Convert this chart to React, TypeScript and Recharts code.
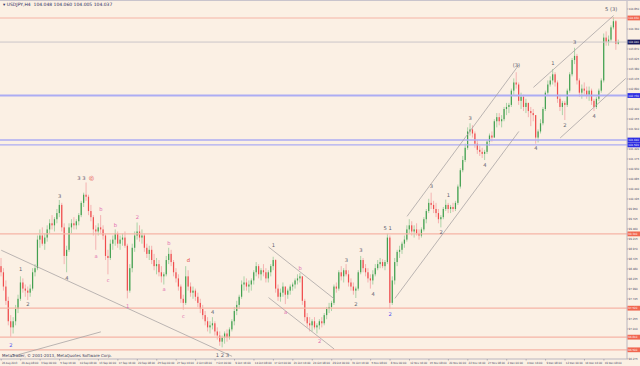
import React from 'react';
import { ComposedChart, Bar, XAxis, YAxis, ReferenceLine, ReferenceDot } from 'recharts';

// USDJPY H4, each candle here = two H4 bars
const firstOpen = 98.55;
const closes = [
  98.40, 98.05, 97.70, 97.20, 97.05, 97.20, 97.50, 97.75, 98.15, 98.00,
  97.95, 97.90, 98.00, 98.40, 98.50, 99.20, 99.30, 99.10, 99.25, 99.45,
  99.60, 99.55, 99.70, 99.85, 100.05, 99.50, 98.80, 98.95, 99.50, 99.60,
  99.55, 99.65, 99.80, 100.10, 100.30, 100.25, 99.90, 99.75, 99.45, 99.40,
  99.50, 99.45, 99.30, 98.80, 98.75, 99.10, 99.20, 99.35, 99.10, 99.20,
  99.25, 99.05, 97.95, 98.50, 99.00, 99.30, 99.40, 99.25, 99.30, 99.00,
  98.85, 98.95, 98.70, 98.55, 98.60, 98.40, 98.30, 98.35, 98.70, 98.85,
  98.65, 98.40, 98.25, 98.05, 97.75, 97.65, 98.30, 98.05, 97.90, 97.95,
  97.80, 97.65, 97.50, 97.35, 97.20, 97.05, 97.10, 97.15, 96.95, 96.85,
  96.70, 96.80, 96.90, 96.80, 97.00, 97.20, 97.45, 97.60, 97.80, 98.10,
  98.15, 98.05, 98.10, 98.20, 98.40, 98.55, 98.35, 98.45, 98.40, 98.25,
  98.40, 98.55, 98.70, 98.00, 97.80, 97.90, 98.05, 97.85, 97.95, 98.05,
  98.10, 98.20, 98.25, 98.30, 97.70, 97.30, 97.15, 97.10, 97.20, 97.05,
  97.10, 97.20, 97.15, 97.35, 97.50, 97.55, 97.65, 98.05, 98.00, 98.40,
  98.30, 98.45, 98.35, 98.15, 98.05, 97.95, 98.00, 98.40, 98.70, 98.50,
  98.40, 98.25, 98.20, 98.35, 98.50, 98.60, 98.65, 98.55, 98.65, 99.25,
  97.65, 98.20, 98.65, 98.90, 98.95, 99.10, 99.20, 99.45, 99.55, 99.40,
  99.45, 99.35, 99.30, 99.45, 99.70, 99.90, 100.10, 100.05, 99.95, 99.85,
  99.70, 99.75, 99.95, 100.05, 99.95, 100.00, 99.95, 100.10, 100.50, 100.90,
  101.15, 101.45, 101.85, 101.90, 101.80, 101.55, 101.40, 101.35, 101.30, 101.35,
  101.60, 101.75, 101.70, 102.10, 102.20, 102.10, 102.15, 102.40, 102.45, 102.50,
  102.85, 103.05, 103.00, 102.60, 102.70, 102.45, 102.55, 102.35, 102.30, 102.25,
  101.70, 101.85, 102.05, 102.40, 102.80, 103.00, 103.10, 103.25, 103.05, 102.65,
  102.45, 102.55, 102.50, 102.85, 103.25, 103.60, 103.70, 103.10, 102.80, 102.90,
  102.85, 102.75, 102.85, 102.60, 102.45, 102.65, 102.85, 103.10, 104.15, 104.05,
  104.10, 104.40, 104.55, 104.00, 104.04,
];
const highs = [
  98.75, 98.50, 98.20, 97.80, 97.35, 97.30, 97.60, 97.85, 98.30, 98.25,
  98.10, 98.05, 98.10, 98.50, 98.60, 99.30, 99.45, 99.50, 99.35, 99.55,
  99.70, 99.80, 99.75, 99.95, 100.17, 100.10, 99.60, 99.05, 99.60, 99.70,
  99.75, 99.70, 99.85, 100.15, 100.35, 100.60, 100.30, 100.05, 99.80, 99.55,
  99.60, 99.80, 99.55, 99.35, 98.95, 99.20, 99.30, 99.45, 99.40, 99.30,
  99.35, 99.40, 99.10, 98.60, 99.10, 99.40, 99.62, 99.55, 99.45, 99.35,
  99.10, 99.05, 99.05, 98.85, 98.75, 98.70, 98.55, 98.40, 98.80, 99.00,
  98.95, 98.70, 98.50, 98.35, 98.10, 97.85, 98.55, 98.45, 98.15, 98.05,
  98.00, 97.90, 97.75, 97.60, 97.45, 97.30, 97.20, 97.30, 97.20, 97.05,
  96.95, 96.85, 96.95, 97.00, 97.05, 97.25, 97.55, 97.70, 97.85, 98.20,
  98.30, 98.25, 98.20, 98.25, 98.45, 98.65, 98.60, 98.50, 98.60, 98.50,
  98.45, 98.60, 98.78, 98.72, 98.10, 98.00, 98.15, 98.05, 98.00, 98.10,
  98.15, 98.25, 98.35, 98.38, 98.30, 97.75, 97.40, 97.30, 97.25, 97.30,
  97.15, 97.25, 97.30, 97.40, 97.55, 97.65, 97.70, 98.10, 98.15, 98.45,
  98.55, 98.50, 98.60, 98.45, 98.25, 98.15, 98.05, 98.45, 98.80, 98.75,
  98.60, 98.50, 98.35, 98.45, 98.60, 98.70, 98.75, 98.72, 98.70, 99.35,
  99.30, 98.30, 98.75, 98.95, 99.05, 99.15, 99.30, 99.55, 99.70, 99.65,
  99.55, 99.60, 99.45, 99.50, 99.75, 99.95, 100.20, 100.35, 100.15, 100.10,
  99.95, 99.80, 100.00, 100.18, 100.10, 100.05, 100.10, 100.15, 100.55, 100.95,
  101.25, 101.55, 101.95, 102.05, 102.00, 101.85, 101.65, 101.50, 101.45, 101.40,
  101.65, 101.80, 101.85, 102.15, 102.30, 102.30, 102.25, 102.45, 102.55, 102.55,
  102.90, 103.15, 103.30, 103.05, 102.80, 102.75, 102.65, 102.55, 102.45, 102.40,
  102.25, 101.90, 102.15, 102.45, 102.85, 103.10, 103.20, 103.38, 103.30, 103.10,
  102.75, 102.60, 102.60, 102.90, 103.30, 103.65, 103.90, 103.75, 103.15, 103.00,
  103.05, 102.95, 102.95, 102.90, 102.65, 102.70, 102.90, 103.15, 104.25, 104.30,
  104.20, 104.45, 104.65, 104.58, 104.10,
];
const lows = [
  98.30, 97.95, 97.60, 97.10, 96.82, 96.90, 97.10, 97.40, 97.70, 97.90,
  97.80, 97.72, 97.80, 97.95, 98.30, 98.45, 99.00, 99.05, 98.95, 99.15,
  99.35, 99.45, 99.40, 99.60, 99.75, 99.40, 98.60, 98.40, 98.90, 99.35,
  99.45, 99.45, 99.55, 99.75, 100.00, 100.15, 99.80, 99.65, 99.30, 98.95,
  99.30, 99.35, 99.20, 98.70, 98.35, 98.70, 98.95, 99.05, 99.00, 98.95,
  99.05, 99.00, 97.76, 97.90, 98.40, 98.90, 99.20, 99.15, 99.10, 98.90,
  98.75, 98.70, 98.60, 98.45, 98.35, 98.30, 98.15, 98.10, 98.30, 98.60,
  98.55, 98.30, 98.15, 97.95, 97.65, 97.48, 97.60, 97.95, 97.80, 97.75,
  97.70, 97.55, 97.40, 97.25, 97.10, 96.95, 96.90, 97.00, 96.85, 96.75,
  96.60, 96.56, 96.65, 96.70, 96.75, 96.95, 97.10, 97.35, 97.50, 97.75,
  97.95, 97.95, 97.90, 97.95, 98.10, 98.30, 98.25, 98.20, 98.30, 98.15,
  98.15, 98.30, 98.45, 97.90, 97.70, 97.68, 97.80, 97.62, 97.75, 97.85,
  97.95, 98.00, 98.10, 98.15, 97.60, 97.20, 97.05, 96.95, 96.95, 97.00,
  96.90, 97.00, 97.05, 97.10, 97.25, 97.40, 97.45, 97.60, 97.90, 97.95,
  98.20, 98.15, 98.30, 98.05, 97.95, 97.85, 97.77, 97.95, 98.35, 98.40,
  98.30, 98.15, 98.00, 98.10, 98.30, 98.45, 98.50, 98.50, 98.45, 98.60,
  97.50, 97.60, 98.10, 98.55, 98.75, 98.85, 99.00, 99.15, 99.35, 99.30,
  99.25, 99.30, 99.20, 99.25, 99.40, 99.60, 99.85, 99.95, 99.85, 99.75,
  99.60, 99.50, 99.70, 99.90, 99.85, 99.85, 99.88, 99.90, 100.05, 100.45,
  100.85, 101.10, 101.40, 101.75, 101.70, 101.45, 101.30, 101.25, 101.20, 101.15,
  101.30, 101.50, 101.60, 101.70, 101.95, 102.00, 101.95, 102.10, 102.25, 102.30,
  102.45, 102.75, 102.90, 102.50, 102.40, 102.35, 102.30, 102.20, 101.98, 102.10,
  101.55, 101.58, 101.80, 102.00, 102.35, 102.75, 102.95, 103.00, 102.95, 102.55,
  102.35, 102.25, 102.13, 102.45, 102.80, 103.20, 103.50, 103.00, 102.70, 102.65,
  102.75, 102.65, 102.60, 102.50, 102.35, 102.40, 102.60, 102.80, 103.05, 103.95,
  103.95, 104.05, 104.35, 103.85, 103.98,
];

const timeLabels = [
  '26 Aug 2013', '29 Aug 08:00', '3 Sep 00:00', '5 Sep 16:00', '10 Sep 08:00', '13 Sep 00:00',
  '17 Sep 16:00', '20 Sep 08:00', '25 Sep 00:00', '27 Sep 16:00', '2 Oct 08:00', '7 Oct 00:00',
  '9 Oct 16:00', '14 Oct 08:00', '17 Oct 00:00', '21 Oct 16:00', '24 Oct 08:00', '29 Oct 00:00',
  '31 Oct 16:00', '5 Nov 08:00', '8 Nov 00:00', '12 Nov 16:00', '15 Nov 08:00', '20 Nov 00:00',
  '22 Nov 16:00', '27 Nov 08:00', '2 Dec 00:00', '4 Dec 16:00', '9 Dec 08:00', '12 Dec 00:00',
  '16 Dec 16:00', '19 Dec 08:00',
];
const priceTicks = [
  96.275, 96.52, 96.765, 97.01, 97.255, 97.5, 97.745, 97.99, 98.235, 98.48, 98.725, 98.97,
  99.215, 99.46, 99.705, 99.95, 100.195, 100.44, 100.685, 100.93, 101.175, 101.42, 101.665,
  101.91, 102.155, 102.4, 102.645, 102.89, 103.135, 103.38, 103.625, 103.87, 104.115, 104.36,
  104.605, 104.85,
];

const redLevels = [104.63, 99.34, 97.52, 96.81, 96.5];
const blueLevels = [102.73, 101.64, 101.52];
const bidPrice = 104.04;

// [from bar, from price, to bar, to price]
const trendLines = [
  [0, 98.94, 95, 96.34],
  [4, 96.33, 41, 96.94],
  [110, 99.02, 137, 97.75],
  [110, 97.78, 137, 96.52],
  [167, 99.77, 213, 103.48],
  [162, 97.76, 213, 101.85],
  [219, 102.93, 252, 104.69],
  [230, 101.69, 257, 103.15],
];

const waveText = ['2', '1', '2', '3', '4', '3 3', 'ⓓ', 'a', 'b', 'c', 'b', '1', '2', 'a', 'b', 'c', 'd', '4', '1 2 3',
  '1', 'a', 'b', '2', '3', '2', '3', '4', '5 1', '2', '3', '2', '1', '3', '4', '(3)', '4', '1', '2', '3', '4', '5 (3)'];
const waveBar = [4, 8, 11, 24, 27, 33, 37, 39, 41, 44, 47, 52, 56, 67, 69, 75, 77, 87, 91,
  112, 117, 123, 131, 142, 146, 148, 153, 159, 160, 177, 181, 184, 193, 199, 212, 220, 227, 232, 236, 244, 251];
const wavePrice = [96.62, 98.48, 97.62, 100.27, 98.25, 100.70, 100.70, 98.80, 99.95, 98.20, 99.55, 97.58, 99.74, 97.98, 99.12, 97.33, 98.70, 97.43, 96.38,
  99.07, 97.42, 98.50, 96.72, 98.70, 97.62, 98.93, 97.86, 99.47, 97.38, 100.50, 99.38, 100.30, 102.17, 101.02, 103.48, 101.43, 103.52, 102.01, 104.03, 102.22, 104.85];
const waveTone = ['b', 'k', 'k', 'k', 'k', 'k', 'r', 'p', 'p', 'p', 'p', 'p', 'p', 'p', 'p', 'p', 'r', 'k', 'k',
  'k', 'p', 'p', 'p', 'k', 'k', 'k', 'k', 'k', 'b', 'k', 'k', 'k', 'k', 'k', 'k', 'k', 'k', 'k', 'k', 'k', 'k'];

const SLOTS = 258;
const LABEL_EVERY = 8;

const rows = Array.from({ length: SLOTS }, (_, i) => {
  if (i >= closes.length) return { i };
  const o = i === 0 ? firstOpen : closes[i - 1];
  const c = closes[i];
  return { i, o, c, h: Math.max(highs[i], o, c), l: Math.min(lows[i], o, c) };
});
const tickBars = timeLabels.map((_, k) => k * LABEL_EVERY);
const tagPrices = [...redLevels, ...blueLevels, bidPrice];
// plain scale labels that sit under a price tag are hidden, as in the terminal
const shownTicks = priceTicks.filter((t) => tagPrices.every((p) => Math.abs(p - t) > 0.09));
const toneColor: Record<string, string> = { k: '#5d5d6e', p: '#e06cae', b: '#4b4bf0', r: '#e23434' };
const FONT = 'DejaVu Sans, Arial, sans-serif';

const Candle = (props: any) => {
  const { x, y, width, height, payload } = props;
  if (!payload || payload.c == null) return null;
  const top = Math.min(y, y + height);
  const bot = Math.max(y, y + height);
  const span = payload.h - payload.l;
  const toY = (v: number) => (span > 0 ? top + ((payload.h - v) / span) * (bot - top) : top);
  const cx = x + width / 2;
  const up = payload.c >= payload.o;
  const b1 = toY(Math.max(payload.o, payload.c));
  const b2 = toY(Math.min(payload.o, payload.c));
  const bw = Math.max(width * 0.6, 1);
  return (
    <g>
      <line x1={cx} x2={cx} y1={top} y2={bot} stroke={up ? '#a3cfa0' : '#f3abab'} strokeWidth={0.9} />
      <rect x={cx - bw / 2} y={b1} width={bw} height={Math.max(b2 - b1, 0.7)} fill={up ? '#43a050' : '#f04c4c'} />
    </g>
  );
};

const TimeTick = ({ x, y, payload }: any) => {
  const label = timeLabels[Math.round(payload.value / LABEL_EVERY)] || '';
  return (
    <g>
      <line x1={x} x2={x} y1={y} y2={y + 1.5} stroke="#8d8a9a" strokeWidth={0.6} />
      <text x={x + 0.8} y={y + 5.2} fontSize={2.9} fill="#3d3d5e" fontFamily={FONT}
        textLength={label.length * 1.4} lengthAdjust="spacingAndGlyphs">{label}</text>
    </g>
  );
};

const PriceTick = ({ x, y, payload }: any) => {
  const v = payload.value;
  let bg = '';
  if (v === bidPrice) bg = '#17175c';
  else if (redLevels.includes(v)) bg = '#f1664f';
  else if (blueLevels.includes(v)) bg = '#2c2ce2';
  const text = v.toFixed(3);
  const len = text.length * 1.5;
  if (bg) {
    return (
      <g>
        <rect x={x + 0.5} y={y - 2.4} width={12.5} height={4.8} fill={bg} />
        <text x={x + 1.3} y={y + 1.1} fontSize={2.9} fill="#ffffff" fontFamily={FONT}
          textLength={len} lengthAdjust="spacingAndGlyphs">{text}</text>
      </g>
    );
  }
  return (
    <g>
      <line x1={x} x2={x + 1.2} y1={y} y2={y} stroke="#8d8a9a" strokeWidth={0.6} />
      <text x={x + 1.6} y={y + 1.1} fontSize={2.9} fill="#3d3d5e" fontFamily={FONT}
        textLength={len} lengthAdjust="spacingAndGlyphs">{text}</text>
    </g>
  );
};

export default function App() {
  return (
    <div style={{ position: 'fixed', left: 0, top: 0, width: 640, height: 366, background: '#fbf0e4', overflow: 'hidden' }}>
      <div style={{ position: 'absolute', left: 0, top: 0, width: 640, height: 1, background: '#c9c4cc' }} />
      <ComposedChart
        width={640}
        height={366}
        data={rows}
        margin={{ top: 1, right: 0, bottom: 0, left: 0 }}
        barCategoryGap={0}
        barGap={0}
      >
        <XAxis
          dataKey="i"
          type="category"
          ticks={tickBars}
          interval={0}
          height={7}
          tickSize={0}
          tickMargin={0}
          tickLine={false}
          axisLine={{ stroke: '#bab6c0' }}
          tick={<TimeTick />}
        />
        <YAxis
          orientation="right"
          type="number"
          domain={[96.275, 105.046]}
          allowDataOverflow
          width={13}
          ticks={[...shownTicks, ...tagPrices]}
          interval={0}
          tickSize={0}
          tickMargin={0}
          tickLine={false}
          axisLine={{ stroke: '#bab6c0' }}
          tick={<PriceTick />}
        />
        {redLevels.map((p) => (
          <ReferenceLine key={'r' + p} y={p} stroke="#f6b4a6" strokeWidth={1.2} />
        ))}
        {blueLevels.map((p, k) => (
          <ReferenceLine key={'b' + p} y={p} stroke="#acacf3" strokeWidth={k === 0 ? 2 : 1.3} />
        ))}
        <ReferenceLine y={bidPrice} stroke="#cbc5c8" strokeWidth={1} />
        {trendLines.map(([a, b, c, d], k) => (
          <ReferenceLine
            key={'t' + k}
            segment={[{ x: a, y: b }, { x: c, y: d }]}
            stroke="#a9a5a5"
            strokeWidth={0.8}
            ifOverflow="visible"
          />
        ))}
        <Bar
          dataKey={(d: any) => (d.c == null ? null : [d.l, d.h])}
          shape={(p: any) => <Candle {...p} />}
          isAnimationActive={false}
        />
        {waveText.map((t, k) => (
          <ReferenceDot
            key={'w' + k}
            x={waveBar[k]}
            y={wavePrice[k]}
            r={0}
            ifOverflow="visible"
            shape={(p: any) => (
              <text x={p.cx} y={p.cy + 1.8} textAnchor="middle" fontSize={5.2} fill={toneColor[waveTone[k]]} fontFamily={FONT}>
                {t}
              </text>
            )}
          />
        ))}
      </ComposedChart>
      <div style={{ position: 'absolute', left: 3, top: 2, fontSize: 4.5, lineHeight: '5px', color: '#2e2e62', fontFamily: FONT, whiteSpace: 'nowrap' }}>
        ▾ USDJPY,H4&nbsp; 104.048 104.060 104.005 104.037
      </div>
      <div style={{ position: 'absolute', left: 2, top: 353, fontSize: 4, lineHeight: '5px', color: '#3a3a5a', fontFamily: FONT, whiteSpace: 'nowrap' }}>
        MetaTrader, © 2001-2013, MetaQuotes Software Corp.
      </div>
    </div>
  );
}
